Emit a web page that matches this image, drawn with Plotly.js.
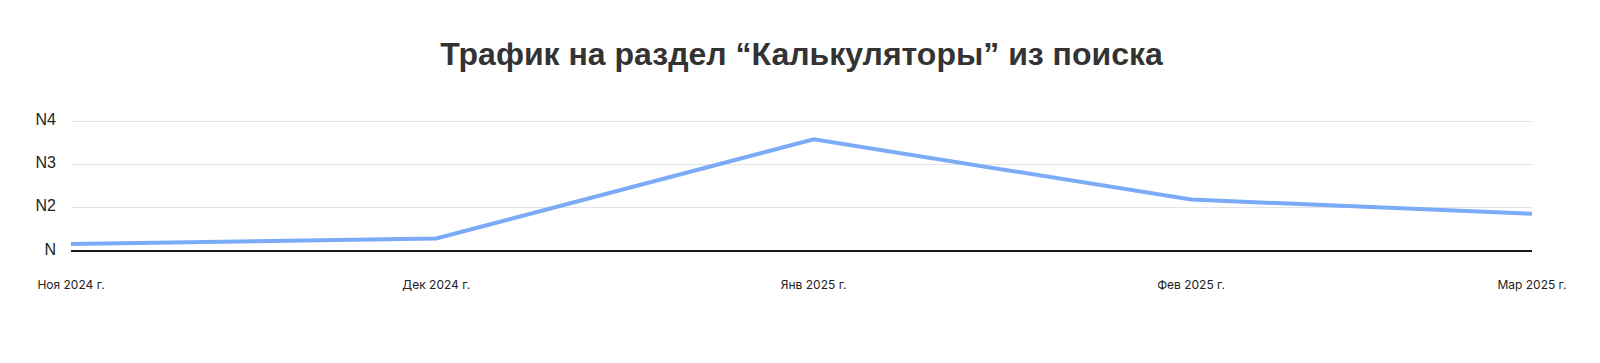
<!DOCTYPE html>
<html>
<head>
<meta charset="utf-8">
<script src="https://cdn.plot.ly/plotly-3.0.1.min.js"></script>
<style>html,body{margin:0;padding:0;background:#fff;}#chart{width:1600px;height:363px;}</style>
</head>
<body>
<div id="chart"></div>
<script>
const months = ["2024-11-01", "2024-12-01", "2025-01-01", "2025-02-01", "2025-03-01"];
const monthLabels = ["Ноя 2024 г.", "Дек 2024 г.", "Янв 2025 г.", "Фев 2025 г.", "Мар 2025 г."];
const traffic = [0.16, 0.29, 2.58, 1.19, 0.86];
const yTickVals = [0, 1, 2, 3];
const yTickLabels = ["N", "N2", "N3", "N4"];
const chartTitle = "Трафик на раздел “Калькуляторы” из поиска";

const trace = {
  x: months,
  y: traffic,
  type: "scatter",
  mode: "lines",
  line: {color: "#7baaf7", width: 4},
  hoverinfo: "skip"
};

const layout = {
  width: 1600,
  height: 363,
  margin: {l: 71, r: 68, t: 119, b: 112},
  paper_bgcolor: "#ffffff",
  plot_bgcolor: "#ffffff",
  showlegend: false,
  title: {
    text: chartTitle,
    font: {family: "Liberation Sans, Arial, sans-serif", size: 32, color: "#333333", weight: "bold"},
    x: 0.5, xanchor: "center",
    xref: "paper",
    y: 1 - 54 / 363, yref: "container", yanchor: "middle"
  },
  xaxis: {
    type: "date",
    range: [months[0], months[months.length - 1]],
    tickmode: "array",
    tickvals: months,
    ticktext: monthLabels,
    showgrid: false,
    zeroline: false,
    showline: false,
    ticks: "",
    ticklabelstandoff: 25,
    tickfont: {family: "Inter, sans-serif", size: 12, color: "#222222"}
  },
  yaxis: {
    range: [0, 3.05],
    tickmode: "array",
    tickvals: yTickVals,
    ticktext: yTickLabels,
    showgrid: true,
    gridcolor: "#e3e3e3",
    gridwidth: 1,
    zeroline: true,
    zerolinecolor: "#1a1a1a",
    zerolinewidth: 1.5,
    ticks: "",
    ticklabelstandoff: 14,
    ticklabelshift: -2,
    tickfont: {family: "Liberation Sans, Arial, sans-serif", size: 16, color: "#222222"}
  }
};

Plotly.newPlot("chart", [trace], layout, {displayModeBar: false, staticPlot: true});
</script>
</body>
</html>
